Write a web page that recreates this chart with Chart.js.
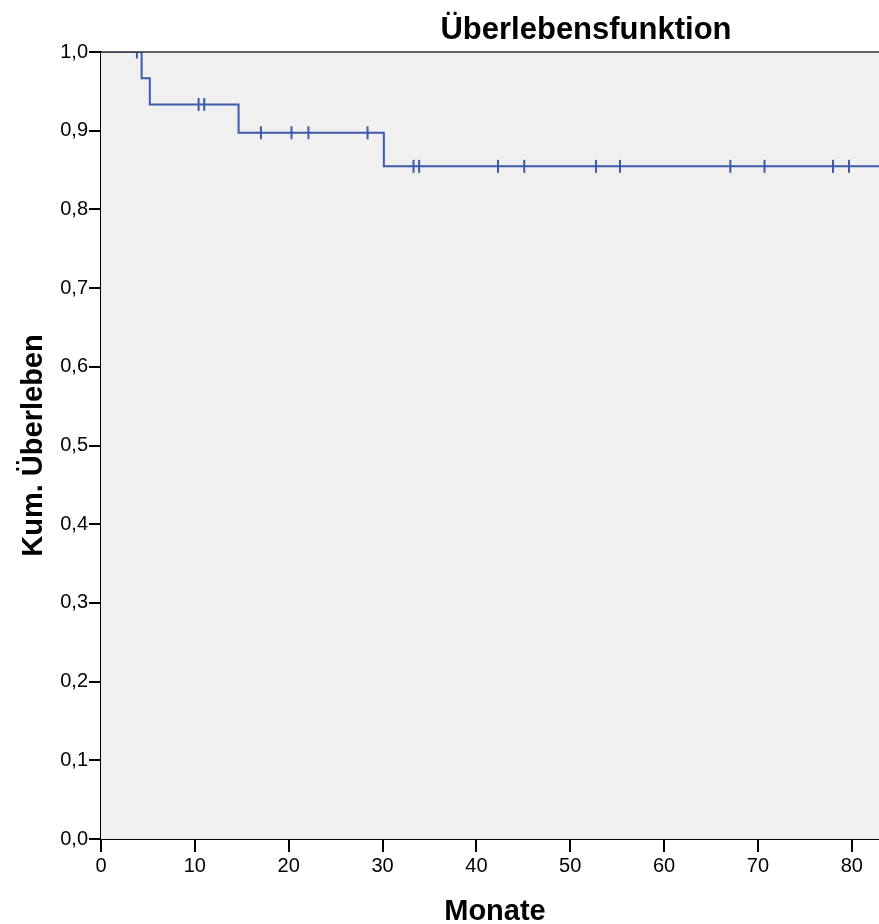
<!DOCTYPE html>
<html>
<head>
<meta charset="utf-8">
<script src="https://cdn.jsdelivr.net/npm/chart.js@4/dist/chart.umd.min.js"></script>
<style>
  html, body { margin: 0; padding: 0; background: #ffffff; }
  #wrap { width: 879px; height: 924px; }
</style>
</head>
<body>
<div id="wrap"><canvas id="c" width="879" height="924"></canvas></div>
<script>
// ---- Data ----
const chartTitle = "Überlebensfunktion";
const xAxisTitle = "Monate";
const yAxisTitle = "Kum. Überleben";

// step function: event times (months) and cumulative survival after each step
const stepTimes    = [0, 4.33, 5.2, 14.66, 30.14, 82.9];
const stepSurvival = [1.0, 0.9667, 0.9333, 0.8974, 0.8547, 0.8547];

// censored observations (months) and survival level at that time
const censorTimes    = [3.83, 10.4, 11.0, 17.04, 20.3, 22.1, 28.4, 33.3, 33.9, 42.3, 45.1, 52.75, 55.3, 67.06, 70.7, 78.0, 79.7];
const censorSurvival = [1.0, 0.9333, 0.9333, 0.8974, 0.8974, 0.8974, 0.8974, 0.8547, 0.8547, 0.8547, 0.8547, 0.8547, 0.8547, 0.8547, 0.8547, 0.8547, 0.8547];

const xTickValues = [0, 10, 20, 30, 40, 50, 60, 70, 80];
const yTickValues = [0, 0.1, 0.2, 0.3, 0.4, 0.5, 0.6, 0.7, 0.8, 0.9, 1.0];
const yTickLabels = ["0,0", "0,1", "0,2", "0,3", "0,4", "0,5", "0,6", "0,7", "0,8", "0,9", "1,0"];

// ---- Build ----
const FONT = '"Liberation Sans", Arial, Helvetica, sans-serif';
const LINE_BLUE = '#3d5aab';

const stepData = stepTimes.map((t, i) => ({ x: t, y: stepSurvival[i] }));
const censorData = censorTimes.map((t, i) => ({ x: t, y: censorSurvival[i] }));

const decorPlugin = {
  id: 'decor',
  beforeDatasetsDraw(chart) {
    const { ctx, chartArea: a } = chart;
    ctx.save();
    ctx.fillStyle = '#f0f0f0';
    ctx.fillRect(a.left, a.top, a.right - a.left, a.bottom - a.top);
    ctx.restore();
  },
  afterDraw(chart) {
    const { ctx, chartArea: a } = chart;
    ctx.save();
    // top frame line
    ctx.strokeStyle = '#333333';
    ctx.lineWidth = 1.5;
    ctx.beginPath();
    ctx.moveTo(a.left, a.top);
    ctx.lineTo(a.right, a.top);
    ctx.stroke();
    // titles
    ctx.fillStyle = '#000000';
    ctx.textAlign = 'center';
    ctx.textBaseline = 'alphabetic';
    ctx.font = 'bold 31px ' + FONT;
    ctx.fillText(chartTitle, 586, 39);
    ctx.font = 'bold 29px ' + FONT;
    ctx.fillText(xAxisTitle, (a.left + a.right) / 2 + 5, 920);
    ctx.translate(42, (a.top + a.bottom) / 2);
    ctx.rotate(-Math.PI / 2);
    ctx.font = 'bold 29px ' + FONT;
    ctx.fillText(yAxisTitle, 0, 0);
    ctx.restore();
  }
};

new Chart(document.getElementById('c'), {
  type: 'scatter',
  data: {
    datasets: [
      {
        label: 'Überlebensfunktion',
        data: stepData,
        showLine: true,
        stepped: 'before',
        borderColor: LINE_BLUE,
        borderWidth: 2,
        pointRadius: 0,
        pointHoverRadius: 0,
        fill: false
      },
      {
        label: 'Zensiert',
        data: censorData,
        showLine: false,
        pointStyle: 'line',
        rotation: 90,
        pointRadius: 6.5,
        pointBorderWidth: 2,
        borderColor: LINE_BLUE,
        backgroundColor: LINE_BLUE
      }
    ]
  },
  options: {
    responsive: false,
    animation: false,
    devicePixelRatio: 1,
    layout: { autoPadding: false, padding: { top: 52, left: 0, right: 0, bottom: 0 } },
    plugins: {
      legend: { display: false },
      title: { display: false },
      tooltip: { enabled: false }
    },
    scales: {
      x: {
        type: 'linear',
        min: 0,
        max: 82.9,
        afterBuildTicks(scale) { scale.ticks = xTickValues.map(v => ({ value: v })); },
        afterFit(scale) { scale.height = 85; scale.paddingLeft = 0; scale.paddingRight = 0; },
        ticks: {
          color: '#000000',
          font: { family: FONT, size: 20 },
          padding: 2,
          maxRotation: 0,
          autoSkip: false,
          callback: (v) => String(v)
        },
        grid: { drawOnChartArea: false, drawTicks: true, tickLength: 13, color: '#000000', lineWidth: 2 },
        border: { display: true, color: '#000000', width: 2 }
      },
      y: {
        type: 'linear',
        min: 0,
        max: 1,
        afterBuildTicks(scale) { scale.ticks = yTickValues.map(v => ({ value: v })); },
        afterFit(scale) { scale.width = 101; scale.paddingTop = 0; scale.paddingBottom = 0; },
        ticks: {
          color: '#000000',
          font: { family: FONT, size: 20 },
          padding: 1,
          autoSkip: false,
          callback: (v) => {
            const i = yTickValues.findIndex(t => Math.abs(t - v) < 1e-9);
            return i >= 0 ? yTickLabels[i] : '';
          }
        },
        grid: { drawOnChartArea: false, drawTicks: true, tickLength: 12, color: '#000000', lineWidth: 2 },
        border: { display: true, color: '#000000', width: 2 }
      }
    }
  },
  plugins: [decorPlugin]
});
</script>
</body>
</html>
